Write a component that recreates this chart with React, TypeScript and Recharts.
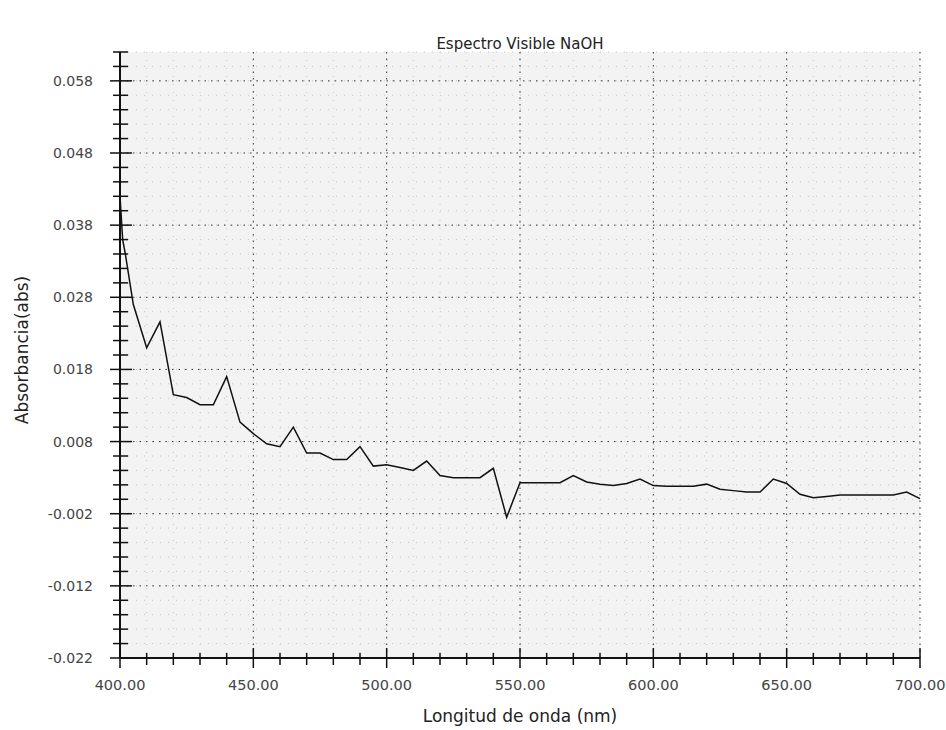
import { LineChart, Line, XAxis, YAxis, CartesianGrid } from 'recharts'

const wavelengths = [
  400, 401, 402, 405, 410, 415, 420, 425, 430, 435, 440, 445, 450, 455, 460, 465, 470, 475, 480, 485,
  490, 495, 500, 505, 510, 515, 520, 525, 530, 535, 540, 545, 550, 555, 560, 565, 570, 575, 580, 585,
  590, 595, 600, 605, 610, 615, 620, 625, 630, 635, 640, 645, 650, 655, 660, 665, 670, 675, 680, 685,
  690, 695, 700,
]

const absorbance = [
  0.042, 0.036, 0.034, 0.027, 0.021, 0.0246, 0.0145, 0.0141, 0.0131, 0.0131, 0.017, 0.0107, 0.0091,
  0.0077, 0.0073, 0.01, 0.0064, 0.0064, 0.0055, 0.0055, 0.0073, 0.0046, 0.0048, 0.0044, 0.004, 0.0053,
  0.0033, 0.003, 0.003, 0.003, 0.0043, -0.0025, 0.0023, 0.0023, 0.0023, 0.0023, 0.0033, 0.0024, 0.0021,
  0.0019, 0.0022, 0.0028, 0.0019, 0.0018, 0.0018, 0.0018, 0.0021, 0.0014, 0.0012, 0.001, 0.001, 0.0028,
  0.0022, 0.0007, 0.0002, 0.0004, 0.0006, 0.0006, 0.0006, 0.0006, 0.0006, 0.001, 0.0001,
]

const xMajorTicks = [400, 450, 500, 550, 600, 650, 700]
const yMajorTicks = [-0.022, -0.012, -0.002, 0.008, 0.018, 0.028, 0.038, 0.048, 0.058]

// minor ticks every 10 nm and every 0.002 abs
const xMinorTicks: number[] = []
for (let v = 400; v <= 700; v += 10) xMinorTicks.push(v)
const yMinorTicks: number[] = []
for (let k = -22; k <= 62; k += 2) yMinorTicks.push(k / 1000)

const data = wavelengths.map((nm, i) => ({ nm, abs: absorbance[i] }))

const FONT = '"DejaVu Sans", sans-serif'
const isMajorX = (v: number) => v % 50 === 0
const isMajorY = (v: number) => (Math.round(v * 1000) + 22) % 10 === 0

const BottomTick = ({ x, y, payload }: any) => {
  const major = isMajorX(payload.value)
  return (
    <g>
      <line x1={x} x2={x} y1={y - (major ? 10 : 5)} y2={y + (major ? 10 : 7)} stroke="#111" strokeWidth={1.5} />
      {major && (
        <text x={x} y={y + 32} textAnchor="middle" fontSize={14.5} fontFamily={FONT} fill="#444">
          {payload.value.toFixed(2)}
        </text>
      )}
    </g>
  )
}

const TopTick = ({ x, y, payload }: any) => {
  const major = isMajorX(payload.value)
  return <line x1={x} x2={x} y1={y} y2={y + (major ? 10 : 8)} stroke="#111" strokeWidth={1.5} />
}

const LeftTick = ({ x, y, payload }: any) => {
  const major = isMajorY(payload.value)
  return (
    <g>
      <line x1={x - (major ? 10 : 7)} x2={x + (major ? 12 : 8)} y1={y} y2={y} stroke="#111" strokeWidth={1.5} />
      {major && (
        <text x={x - 27} y={y + 5} textAnchor="end" fontSize={14} fontFamily={FONT} fill="#444">
          {payload.value.toFixed(3)}
        </text>
      )}
    </g>
  )
}

const RightTick = ({ x, y, payload }: any) => {
  const major = isMajorY(payload.value)
  return <line x1={x - (major ? 10 : 7)} x2={x} y1={y} y2={y} stroke="#111" strokeWidth={1.5} />
}

export default function App() {
  return (
    <div style={{ position: 'absolute', left: 0, top: 0, width: 946, height: 730, background: '#fff' }}>
      <div
        style={{
          position: 'absolute', top: 35, left: 0, width: 1040, textAlign: 'center',
          fontFamily: FONT, fontSize: 15, color: '#222',
        }}
      >
        Espectro Visible NaOH
      </div>
      <div
        style={{
          position: 'absolute', top: 706, left: 0, width: 1040, textAlign: 'center',
          fontFamily: FONT, fontSize: 17, color: '#222',
        }}
      >
        Longitud de onda (nm)
      </div>
      <div
        style={{
          position: 'absolute', left: 22, top: 350, transform: 'translate(-50%, -50%) rotate(-90deg)',
          whiteSpace: 'nowrap', fontFamily: FONT, fontSize: 17, color: '#222',
        }}
      >
        Absorbancia(abs)
      </div>
      <LineChart width={946} height={730} data={data} margin={{ top: 52, right: 26, bottom: 0, left: 0 }}>
        <CartesianGrid
          fill="#f3f3f3"
          stroke="#c4c4c4"
          strokeDasharray="1 7"
          horizontalValues={yMinorTicks}
          verticalValues={xMinorTicks}
        />
        <CartesianGrid
          stroke="#333"
          strokeDasharray="1.5 5"
          horizontalValues={yMajorTicks}
          verticalValues={xMajorTicks}
        />
        <XAxis
          dataKey="nm"
          type="number"
          domain={[400, 700]}
          ticks={xMinorTicks}
          interval={0}
          height={72}
          tickSize={0}
          tickMargin={0}
          tickLine={false}
          axisLine={{ stroke: '#111', strokeWidth: 2 }}
          tick={<BottomTick />}
        />
        <XAxis
          xAxisId="top"
          orientation="top"
          dataKey="nm"
          type="number"
          domain={[400, 700]}
          ticks={xMinorTicks}
          interval={0}
          height={0}
          tickSize={0}
          tickMargin={0}
          tickLine={false}
          axisLine={{ stroke: '#111', strokeWidth: 2 }}
          tick={<TopTick />}
        />
        <YAxis
          type="number"
          domain={[-0.022, 0.062]}
          ticks={yMinorTicks}
          interval={0}
          width={120}
          tickSize={0}
          tickMargin={0}
          tickLine={false}
          axisLine={{ stroke: '#111', strokeWidth: 2 }}
          tick={<LeftTick />}
        />
        <YAxis
          yAxisId="right"
          orientation="right"
          type="number"
          domain={[-0.022, 0.062]}
          ticks={yMinorTicks}
          interval={0}
          width={0}
          tickSize={0}
          tickMargin={0}
          tickLine={false}
          axisLine={{ stroke: '#111', strokeWidth: 2 }}
          tick={<RightTick />}
        />
        <Line
          type="linear"
          dataKey="abs"
          stroke="#111"
          strokeWidth={1.5}
          dot={false}
          isAnimationActive={false}
        />
      </LineChart>
    </div>
  )
}
